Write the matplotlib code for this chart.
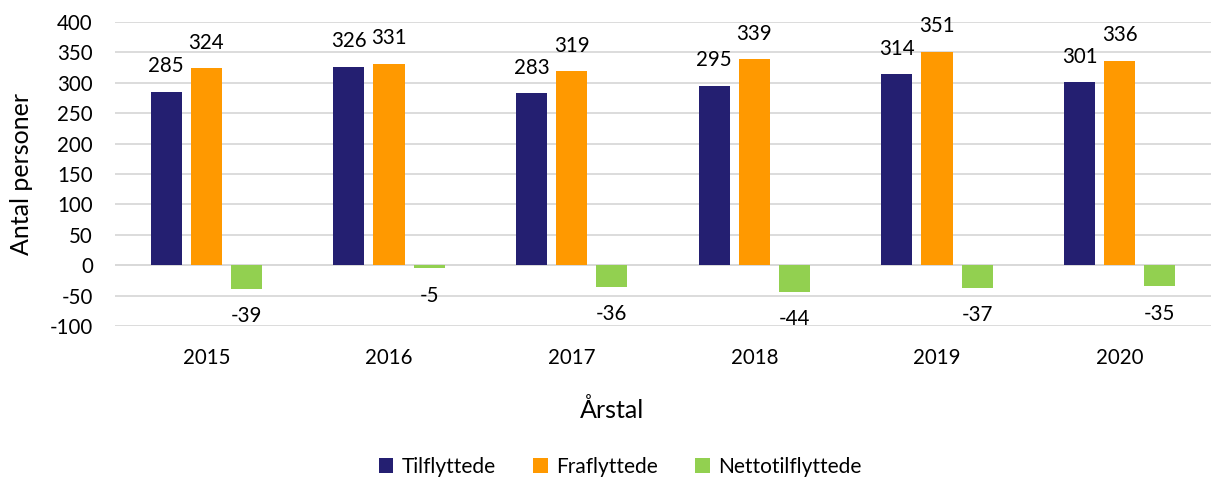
import matplotlib
matplotlib.use("Agg")
import matplotlib.pyplot as plt
import numpy as np

years = ["2015", "2016", "2017", "2018", "2019", "2020"]
tilflyttede = [285, 326, 283, 295, 314, 301]
fraflyttede = [324, 331, 319, 339, 351, 336]
netto = [-39, -5, -36, -44, -37, -35]
series_names = ["Tilflyttede", "Fraflyttede", "Nettotilflyttede"]
colors = ["#241F71", "#FF9900", "#92D050"]
yticks = [-100, -50, 0, 50, 100, 150, 200, 250, 300, 350, 400]

plt.rcParams['font.family'] = ['Lato', 'DejaVu Sans']

W, H = 1218, 479
fig = plt.figure(figsize=(W / 100, H / 100), dpi=100)
left, right, top, bottom = 115, 1211, 22, 326
ax = fig.add_axes([left / W, 1 - bottom / H, (right - left) / W, (bottom - top) / H])

x = np.arange(len(years))
bw = 0.171
step = 0.22
all_series = [tilflyttede, fraflyttede, netto]
for i, (vals, name, c) in enumerate(zip(all_series, series_names, colors)):
    pos = x + (i - 1) * step
    ax.bar(pos, vals, width=bw, color=c, label=name, zorder=3)
    for p, v in zip(pos, vals):
        ty = v + 42 if v >= 0 else v - 45
        ax.text(p, ty, str(v), ha='center', va='center', fontsize=14.8, color='#000000', zorder=4)

ax.set_xlim(-0.5, len(years) - 0.5)
ax.set_ylim(-100, 400)
ax.set_yticks(yticks)
ax.set_yticklabels([str(t) for t in yticks], fontsize=14.8)
ax.set_xticks(x)
ax.set_xticklabels(years, fontsize=14.8)
ax.tick_params(axis='both', length=0)
ax.tick_params(axis='x', pad=16)
ax.tick_params(axis='y', pad=16)
ax.grid(axis='y', color='#D9D9D9', linewidth=1.3, zorder=0)
ax.axhline(0, color='#D9D9D9', linewidth=1.3, zorder=2)
for s in ax.spines.values():
    s.set_visible(False)

fig.text(22 / W, 1 - 174 / H, "Antal personer", rotation=90, ha='center', va='center', fontsize=18)
fig.text(612 / W, 1 - 410 / H, "Årstal", ha='center', va='center', fontsize=18)

fig.legend(loc='center', bbox_to_anchor=(620 / W, 1 - 467 / H), ncol=3, frameon=False,
           fontsize=15, handlelength=0.7, handleheight=0.7, handletextpad=0.4, columnspacing=1.8)

fig.savefig("out.png", dpi=100)
